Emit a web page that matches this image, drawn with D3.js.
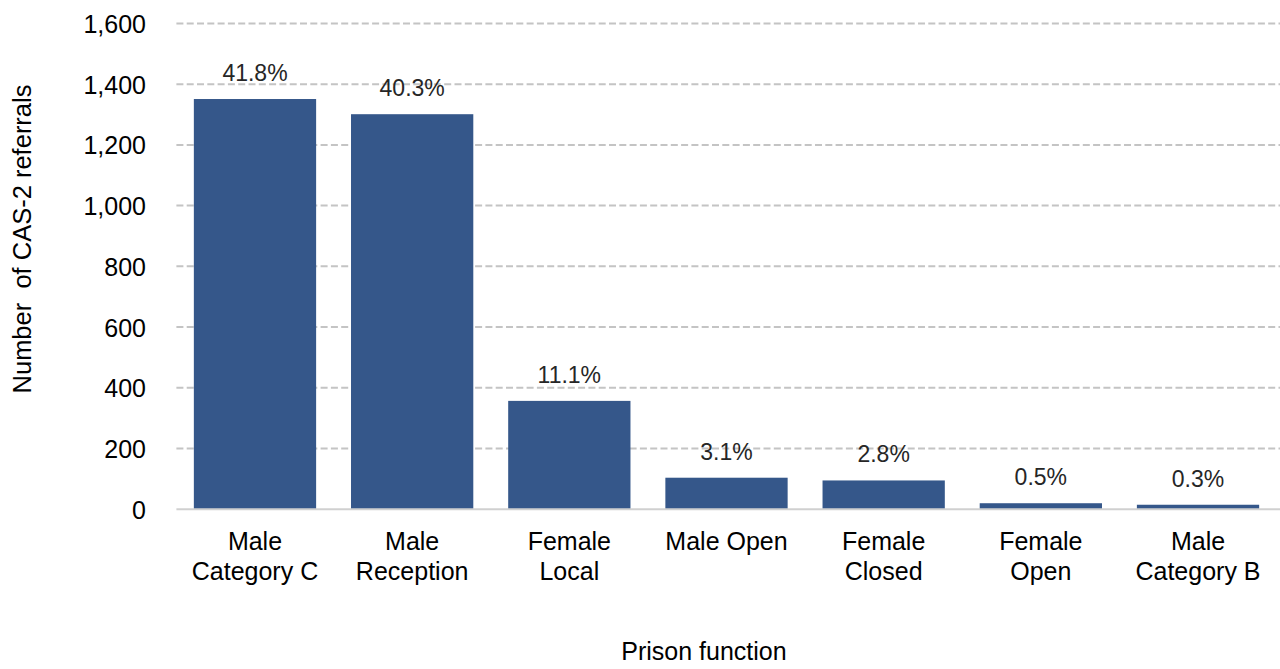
<!DOCTYPE html>
<html>
<head>
<meta charset="utf-8">
<script src="https://cdn.jsdelivr.net/npm/d3@7"></script>
<style>
  html, body { margin: 0; padding: 0; background: #fff; }
  svg { display: block; font-family: "Liberation Sans", Arial, sans-serif; }
</style>
</head>
<body>
<svg id="chart" width="1280" height="669"></svg>
<script>
const categories = [
  ["Male", "Category C"],
  ["Male", "Reception"],
  ["Female", "Local"],
  ["Male Open"],
  ["Female", "Closed"],
  ["Female", "Open"],
  ["Male", "Category B"]
];
const values = [1351, 1301, 357, 104, 95, 20, 15];
const percentLabels = ["41.8%", "40.3%", "11.1%", "3.1%", "2.8%", "0.5%", "0.3%"];
const yTicks = [0, 200, 400, 600, 800, 1000, 1200, 1400, 1600];

const svg = d3.select("#chart");
const plotLeft = 176.4, plotRight = 1276.6, plotTop = 23.4, plotBottom = 509.3;

const x = d3.scaleBand()
  .domain(d3.range(categories.length))
  .range([plotLeft, plotRight])
  .paddingInner(0.222)
  .paddingOuter(0.111);

const y = d3.scaleLinear().domain([0, 1600]).range([plotBottom, plotTop]);

// gridlines
svg.append("g").selectAll("line")
  .data(yTicks.filter(d => d > 0))
  .join("line")
  .attr("x1", plotLeft).attr("x2", 1280)
  .attr("y1", d => y(d)).attr("y2", d => y(d))
  .attr("stroke", "#c4c4c4")
  .attr("stroke-width", 2)
  .attr("stroke-dasharray", "7,3.3");

// y axis tick labels
const yAxis = d3.axisLeft(y).tickValues(yTicks).tickFormat(d3.format(",")).tickSize(0).tickPadding(0);
const gy = svg.append("g").attr("transform", `translate(146,0)`).call(yAxis);
gy.select(".domain").remove();
gy.selectAll("text")
  .attr("font-size", 25)
  .attr("font-family", "Liberation Sans, Arial, sans-serif")
  .attr("fill", "#000")
  .attr("dy", "0.36em");

// bars
svg.append("g").selectAll("rect")
  .data(values)
  .join("rect")
  .attr("x", (d, i) => x(i))
  .attr("width", x.bandwidth())
  .attr("y", d => y(d))
  .attr("height", d => y(0) - y(d))
  .attr("fill", "#35578a");

// baseline
svg.append("line")
  .attr("x1", plotLeft).attr("x2", 1280)
  .attr("y1", y(0)).attr("y2", y(0))
  .attr("stroke", "#d0d0d0")
  .attr("stroke-width", 2);

// percentage labels
svg.append("g").selectAll("text")
  .data(values)
  .join("text")
  .attr("x", (d, i) => x(i) + x.bandwidth() / 2)
  .attr("y", d => y(d) - 18)
  .attr("text-anchor", "middle")
  .attr("font-size", 23)
  .attr("fill", "#262626")
  .text((d, i) => percentLabels[i]);

// category labels
const gx = svg.append("g");
categories.forEach((lines, i) => {
  const t = gx.append("text")
    .attr("x", x(i) + x.bandwidth() / 2)
    .attr("y", 550)
    .attr("text-anchor", "middle")
    .attr("font-size", 25)
    .attr("fill", "#000");
  lines.forEach((ln, j) => {
    t.append("tspan")
      .attr("x", x(i) + x.bandwidth() / 2)
      .attr("y", 550 + j * 30)
      .text(ln);
  });
});

// axis titles
svg.append("text")
  .attr("x", 704)
  .attr("y", 660)
  .attr("text-anchor", "middle")
  .attr("font-size", 25)
  .attr("fill", "#000")
  .text("Prison function");

svg.append("text")
  .attr("transform", "translate(31,239) rotate(-90)")
  .attr("text-anchor", "middle")
  .attr("font-size", 25.5)
  .attr("fill", "#000")
  .style("white-space", "pre")
  .text("Number  of CAS-2 referrals");
</script>
</body>
</html>
